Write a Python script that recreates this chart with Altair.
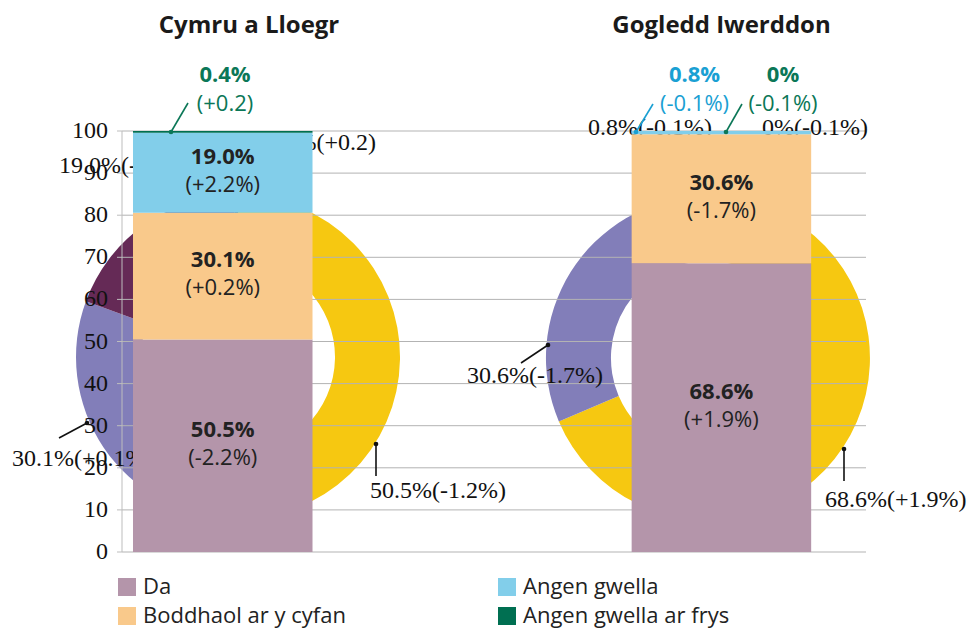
import altair as alt
import pandas as pd

# ---------------- data ----------------
regions = ["Cymru a Lloegr", "Gogledd Iwerddon"]
categories = ["Da", "Boddhaol ar y cyfan", "Angen gwella", "Angen gwella ar frys"]
share_cymru = [50.5, 30.1, 19.0, 0.4]
share_gogledd = [68.6, 30.6, 0.8, 0.0]
share_text_cymru = ["50.5%", "30.1%", "19.0%", "0.4%"]
share_text_gogledd = ["68.6%", "30.6%", "0.8%", "0%"]
change_cymru = ["(-2.2%)", "(+0.2%)", "(+2.2%)", "(+0.2)"]
change_gogledd = ["(+1.9%)", "(-1.7%)", "(-0.1%)", "(-0.1%)"]
ring_text_cymru = ["50.5%(-1.2%)", "30.1%(+0.1%)", "19.0%(-0.2%)", "0.4%(+0.2)"]
ring_text_gogledd = ["68.6%(+1.9%)", "30.6%(-1.7%)", "0.8%(-0.1%)", "0%(-0.1%)"]
y_ticks = [0, 10, 20, 30, 40, 50, 60, 70, 80, 90, 100]

# ---------------- styles ----------------
bar_colors = ["#B495AA", "#F9C98B", "#82CEEA", "#006F51"]
ring_colors = ["#F6C811", "#827EB9", "#652A56", "#3F3F3F"]
SANS = "Open Sans"
SERIF = "Liberation Serif"
DARK = "#222222"
GREEN = "#0B7757"
BLUE = "#1AA0D3"
AXIS_GREY = "#BDBDBD"

rows = []
for reg, sh, st, ch, rt in [
    (regions[0], share_cymru, share_text_cymru, change_cymru, ring_text_cymru),
    (regions[1], share_gogledd, share_text_gogledd, change_gogledd, ring_text_gogledd),
]:
    for i, cat in enumerate(categories):
        rows.append(dict(region=reg, category=cat, ord=i, value=sh[i],
                         share_text=st[i], change=ch[i], ring_text=rt[i]))
df = pd.DataFrame(rows)
ticks_df = pd.DataFrame({"tick": y_ticks})

x_scale = alt.Scale(domain=regions, paddingInner=0.64, paddingOuter=0.066, align=0.167)
y_scale = alt.Scale(domain=[0, 100], nice=False, zero=True)
bar_color_scale = alt.Scale(domain=categories, range=bar_colors)

base = alt.Chart(df)

# ---------------- rings (background) ----------------
def ring(region, band_pos, y_center_px):
    return base.transform_filter(alt.datum.region == region).transform_stack(
        stack="value", groupby=["region"], sort=[alt.SortField("ord", order="ascending")], as_=["t0", "t1"]
    ).mark_arc(outerRadius=162, innerRadius=97).encode(
        x=alt.X("region:N", scale=x_scale, axis=None, bandPosition=band_pos),
        y=alt.value(y_center_px),
        theta=alt.Theta("t0:Q", scale=alt.Scale(domain=[0, 100])),
        theta2="t1:Q",
        fill=alt.Fill("category:N", scale=alt.Scale(domain=categories, range=ring_colors), legend=None),
    )

ring_left = ring(regions[0], 0.585, 226)
ring_right = ring(regions[1], 0.425, 227)

# ---------------- gridlines and y axis (drawn from the tick list) ----------------
grid = alt.Chart(ticks_df).mark_rule(color="#B3B3B3", strokeWidth=1).encode(
    y=alt.Y("tick:Q", scale=y_scale, axis=None)
)
axis_ticks = alt.Chart(ticks_df).mark_rule(color=AXIS_GREY, strokeWidth=1).encode(
    y=alt.Y("tick:Q", scale=y_scale, axis=None), x=alt.value(-5), x2=alt.value(0)
)
axis_domain = alt.Chart(pd.DataFrame({"lo": [min(y_ticks)], "hi": [max(y_ticks)]})).mark_rule(
    color=AXIS_GREY, strokeWidth=1
).encode(
    y=alt.Y("lo:Q", scale=y_scale, axis=None), y2="hi:Q", x=alt.value(0)
)
axis_labels = alt.Chart(ticks_df).mark_text(
    font=SERIF, fontSize=24, color="#111111", align="right", baseline="middle"
).encode(
    y=alt.Y("tick:Q", scale=y_scale, axis=None), x=alt.value(-14), text="tick:Q"
)

# ---------------- ring labels and leaders ----------------
ring_label_pos = {
    (0, 0): (248, 359.5, "left"),
    (0, 1): (-110, 328, "left"),
    (0, 2): (-63, 35, "left"),
    (0, 3): (254, 12, "right"),
    (1, 0): (703, 369, "left"),
    (1, 1): (345, 245, "left"),
    (1, 2): (466, -3, "left"),
    (1, 3): (640, -3, "left"),
}
ring_texts = [ring_text_cymru, ring_text_gogledd]
ring_labels = []
for (r, c), (px, py, al) in ring_label_pos.items():
    ring_labels.append(
        alt.Chart(pd.DataFrame({"t": [ring_texts[r][c]]})).mark_text(
            font=SERIF, fontSize=24, color="#111111", align=al, baseline="middle"
        ).encode(text="t:N", x=alt.value(px), y=alt.value(py))
    )

def leader(x1, y1, x2, y2, color, width=1.6):
    line = alt.Chart(pd.DataFrame({"k": [0]})).mark_rule(color=color, strokeWidth=width).encode(
        x=alt.value(x1), y=alt.value(y1), x2=alt.value(x2), y2=alt.value(y2)
    )
    dot = alt.Chart(pd.DataFrame({"k": [0]})).mark_circle(color=color, opacity=1, size=22).encode(
        x=alt.value(x1), y=alt.value(y1)
    )
    return [line, dot]

ring_leaders = []
ring_leaders += leader(254, 313, 254, 345, "#111111")
ring_leaders += leader(-35, 292, -63, 307, "#111111")
ring_leaders += leader(426, 214, 399, 232, "#111111")
ring_leaders += leader(722, 318, 722, 350, "#111111")

# ---------------- bars ----------------
bars = base.mark_bar().encode(
    x=alt.X("region:N", scale=x_scale, axis=None),
    y=alt.Y("value:Q", scale=y_scale, stack="zero", axis=None),
    color=alt.Color("category:N", scale=bar_color_scale, legend=None),
    order=alt.Order("ord:Q", sort="ascending"),
)

lab_base = base.transform_stack(
    stack="value", groupby=["region"], sort=[alt.SortField("ord", order="ascending")], as_=["s0", "s1"]
).transform_calculate(mid="(datum.s0 + datum.s1) / 2").transform_filter("datum.value >= 5")

val_text = lab_base.mark_text(font=SANS, fontSize=22, fontWeight="bold", color=DARK, dy=-16).encode(
    x=alt.X("region:N", scale=x_scale, axis=None),
    y=alt.Y("mid:Q", scale=y_scale, axis=None),
    text="share_text:N",
)
chg_text = lab_base.mark_text(font=SANS, fontSize=22, color=DARK, dy=12).encode(
    x=alt.X("region:N", scale=x_scale, axis=None),
    y=alt.Y("mid:Q", scale=y_scale, axis=None),
    text="change:N",
)

# ---------------- top call-outs for the thin segments ----------------
def callout(text_value, text_change, cx, color):
    a = alt.Chart(pd.DataFrame({"t": [text_value]})).mark_text(
        font=SANS, fontSize=22, fontWeight="bold", color=color, align="center", baseline="middle"
    ).encode(text="t:N", x=alt.value(cx), y=alt.value(-56))
    b = alt.Chart(pd.DataFrame({"t": [text_change]})).mark_text(
        font=SANS, fontSize=22, color=color, align="center", baseline="middle"
    ).encode(text="t:N", x=alt.value(cx), y=alt.value(-27))
    return [a, b]

callouts = []
callouts += callout(share_text_cymru[3], change_cymru[3], 103, GREEN)
callouts += callout(share_text_gogledd[2], change_gogledd[2], 572.5, BLUE)
callouts += callout(share_text_gogledd[3], change_gogledd[3], 661, GREEN)
callouts += leader(49, 1, 66, -28, GREEN)
callouts += leader(514, 1, 531, -27, BLUE)
callouts += leader(604, 1, 620, -27, GREEN)

# ---------------- panel titles ----------------
titles = []
for name, cx in [(regions[0], 127), (regions[1], 599.5)]:
    titles.append(
        alt.Chart(pd.DataFrame({"t": [name]})).mark_text(
            font=SANS, fontSize=24, fontWeight="bold", color="#1A1A1A", align="center", baseline="middle"
        ).encode(text="t:N", x=alt.value(cx), y=alt.value(-105))
    )

# ---------------- legend (2 columns) ----------------
legend_slots = {0: (5, 456), 1: (5, 485), 2: (385, 456), 3: (385, 485)}
legend_layers = []
for i, cat in enumerate(categories):
    sx, sy = legend_slots[i]
    item = pd.DataFrame({"category": [cat]})
    legend_layers.append(
        alt.Chart(item).mark_square(size=324, opacity=1, filled=True).encode(
            color=alt.Color("category:N", scale=bar_color_scale, legend=None),
            x=alt.value(sx), y=alt.value(sy),
        )
    )
    legend_layers.append(
        alt.Chart(item).mark_text(font=SANS, fontSize=22, color=DARK, align="left", baseline="middle").encode(
            text="category:N", x=alt.value(sx + 16), y=alt.value(sy)
        )
    )

chart = alt.layer(
    ring_left, ring_right, grid, axis_domain, axis_ticks, axis_labels,
    *ring_labels, *ring_leaders, bars, val_text, chg_text, *callouts, *titles, *legend_layers
).properties(
    width=744, height=421,
    autosize=alt.AutoSizeParams(type="none"),
    padding={"left": 114, "top": 123, "right": 104, "bottom": 78},
).configure_view(stroke=None)

chart.save("out.html", embed_options={"renderer": "svg", "actions": False})
